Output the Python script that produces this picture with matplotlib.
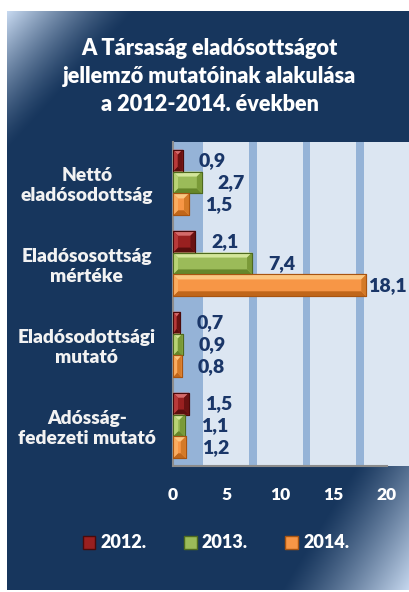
import matplotlib
matplotlib.use("Agg")
import matplotlib.pyplot as plt
from matplotlib.patches import Polygon, Patch, Rectangle
import numpy as np

plt.rcParams['font.family'] = ['Lato', 'DejaVu Sans']
BW = 800  # Lato 800 = tenyleges felkover

# adatok
categories = ['Nettó\neladósodottság', 'Eladósosottság\nmértéke',
              'Eladósodottsági\nmutató', 'Adósság-\nfedezeti mutató']
years = ['2012.', '2013.', '2014.']
v2012 = [0.9, 2.1, 0.7, 1.5]
v2013 = [2.7, 7.4, 0.9, 1.1]
v2014 = [1.5, 18.1, 0.8, 1.2]
xticks = [0, 5, 10, 15, 20]
title = 'A Társaság eladósottságot\njellemző mutatóinak alakulása\na 2012-2014. években'

navy = '#17365d'
light = np.array([0.78, 0.85, 0.94])
# base, top, bottom, left, right, edge
palettes = [
    ('#992020', '#d46a6a', '#5a0e0e', '#b83a3a', '#6a1212', '#4a0a0a'),
    ('#9bbb59', '#d3e69a', '#66862a', '#b8d374', '#7a9a38', '#4e6a1e'),
    ('#f79646', '#fcc680', '#c0661a', '#faac60', '#d47a28', '#a85410'),
]

W, H = 409, 592
fig = plt.figure(figsize=(W / 100, H / 100), dpi=100)
fig.patch.set_facecolor('white')

# hatter gradienssel
bg = fig.add_axes([7 / W, 2 / H, (W - 7) / W, (H - 13) / H])
bg.set_axis_off()
xx, yy = np.meshgrid(np.arange(7, W), np.arange(11, 590))
d1 = (xx - 7) * 0.736 + (yy - 11) * 0.677
t1 = np.clip(1 - d1 / 94, 0, 1) ** 1.3
d2 = (W - xx) * 0.855 + (590 - yy) * 0.517
t2 = np.clip(1 - d2 / 110, 0, 1) ** 1.2
t = np.maximum(t1, t2)
nv = np.array(matplotlib.colors.to_rgb(navy))
img = nv[None, None, :] + t[..., None] * (light - nv)[None, None, :]
bg.imshow(img, aspect='auto', extent=(0, 1, 0, 1), interpolation='bilinear')
bg.set_xlim(0, 1)
bg.set_ylim(0, 1)

# diagram terulet
x0, x1, ytop, ybot = 173, 409, 142, 466
ax = fig.add_axes([x0 / W, (H - ybot) / H, (x1 - x0) / W, (ybot - ytop) / H])
ppu = 10.68  # pixel per egyseg
xmax = (x1 - x0) / ppu
ax.set_xlim(0, xmax)
ax.set_ylim(len(categories) - 0.5, -0.5)
ax.set_facecolor('#dce6f2')
ax.axvspan(0, 2.8, color='#95b3d7', lw=0, zorder=0)
for g in [7.5, 12.5, 17.5]:
    ax.axvspan(g - 0.36, g + 0.36, color='#95b3d7', lw=0, zorder=0)

for s in ['top', 'right']:
    ax.spines[s].set_visible(False)
ax.spines['left'].set_color('#8c8c8c')
ax.spines['bottom'].set_color('#8c8c8c')
ax.spines['left'].set_linewidth(1.5)
ax.spines['bottom'].set_linewidth(1.5)
ax.spines['bottom'].set_bounds(0, 20)

ypos = np.arange(len(categories))
bh = 0.27
series = [v2012, v2013, v2014]
bx = 5 / ppu
by = 5 / 81

for i, (vals, pal) in enumerate(zip(series, palettes)):
    off = (i - 1) * bh
    bars = ax.barh(ypos + off, vals, height=bh, color=pal[0],
                   edgecolor=pal[5], linewidth=0.8, zorder=3)
    for b, v in zip(bars, vals):
        X0, Y0 = b.get_x(), b.get_y()
        w, h = b.get_width(), b.get_height()
        ex = min(bx, w / 2)
        ey = min(by, h / 2)
        X1, Y1 = X0 + w, Y0 + h
        # y tengely forditott: Y0 a felso el
        faces = [
            ([(X0, Y0), (X1, Y0), (X1 - ex, Y0 + ey), (X0 + ex, Y0 + ey)], pal[1]),
            ([(X0, Y1), (X1, Y1), (X1 - ex, Y1 - ey), (X0 + ex, Y1 - ey)], pal[2]),
            ([(X0, Y0), (X0 + ex, Y0 + ey), (X0 + ex, Y1 - ey), (X0, Y1)], pal[3]),
            ([(X1, Y0), (X1 - ex, Y0 + ey), (X1 - ex, Y1 - ey), (X1, Y1)], pal[4]),
        ]
        for pts, c in faces:
            ax.add_patch(Polygon(pts, closed=True, facecolor=c, lw=0, zorder=4))
        ax.add_patch(Rectangle((X0, Y0), w, h, fill=False, edgecolor=pal[5],
                               lw=0.8, zorder=5))
        lab = f'{v:.1f}'.replace('.', ',')
        offs = 16 if (xmax - v) * ppu > 60 else 2
        ax.annotate(lab, (v, Y0 + h / 2), xytext=(offs, 0),
                    textcoords='offset pixels', ha='left', va='center',
                    fontsize=14, fontweight=BW, color='#1a3668', zorder=6)

ax.set_xticks(xticks)
ax.set_xticklabels([str(x) for x in xticks], fontweight=BW)
ax.tick_params(axis='x', length=0, pad=15, labelsize=12.5, labelcolor='white')
ax.set_yticks(ypos)
ax.set_yticklabels(categories, ha='center', linespacing=1.22, fontweight=BW)
ax.tick_params(axis='y', length=0, pad=62, labelsize=13.8, labelcolor='#f2f2f2')

fig.text(0.513, 1 - 76.5 / H, title, ha='center', va='center', color='white',
         fontsize=15.6, fontweight=BW, linespacing=1.42)

handles = [Patch(facecolor=p[0], edgecolor=p[5], label=y)
           for p, y in zip(palettes, years)]
leg = fig.legend(handles=handles, loc='center', bbox_to_anchor=(0.528, 1 - 543 / H),
                 ncol=3, frameon=False, handlelength=0.7, handleheight=0.7,
                 handletextpad=0.3, columnspacing=2.05,
                 prop={'size': 13, 'weight': BW})
for tx in leg.get_texts():
    tx.set_color('white')

plt.savefig('out.png', dpi=100)
